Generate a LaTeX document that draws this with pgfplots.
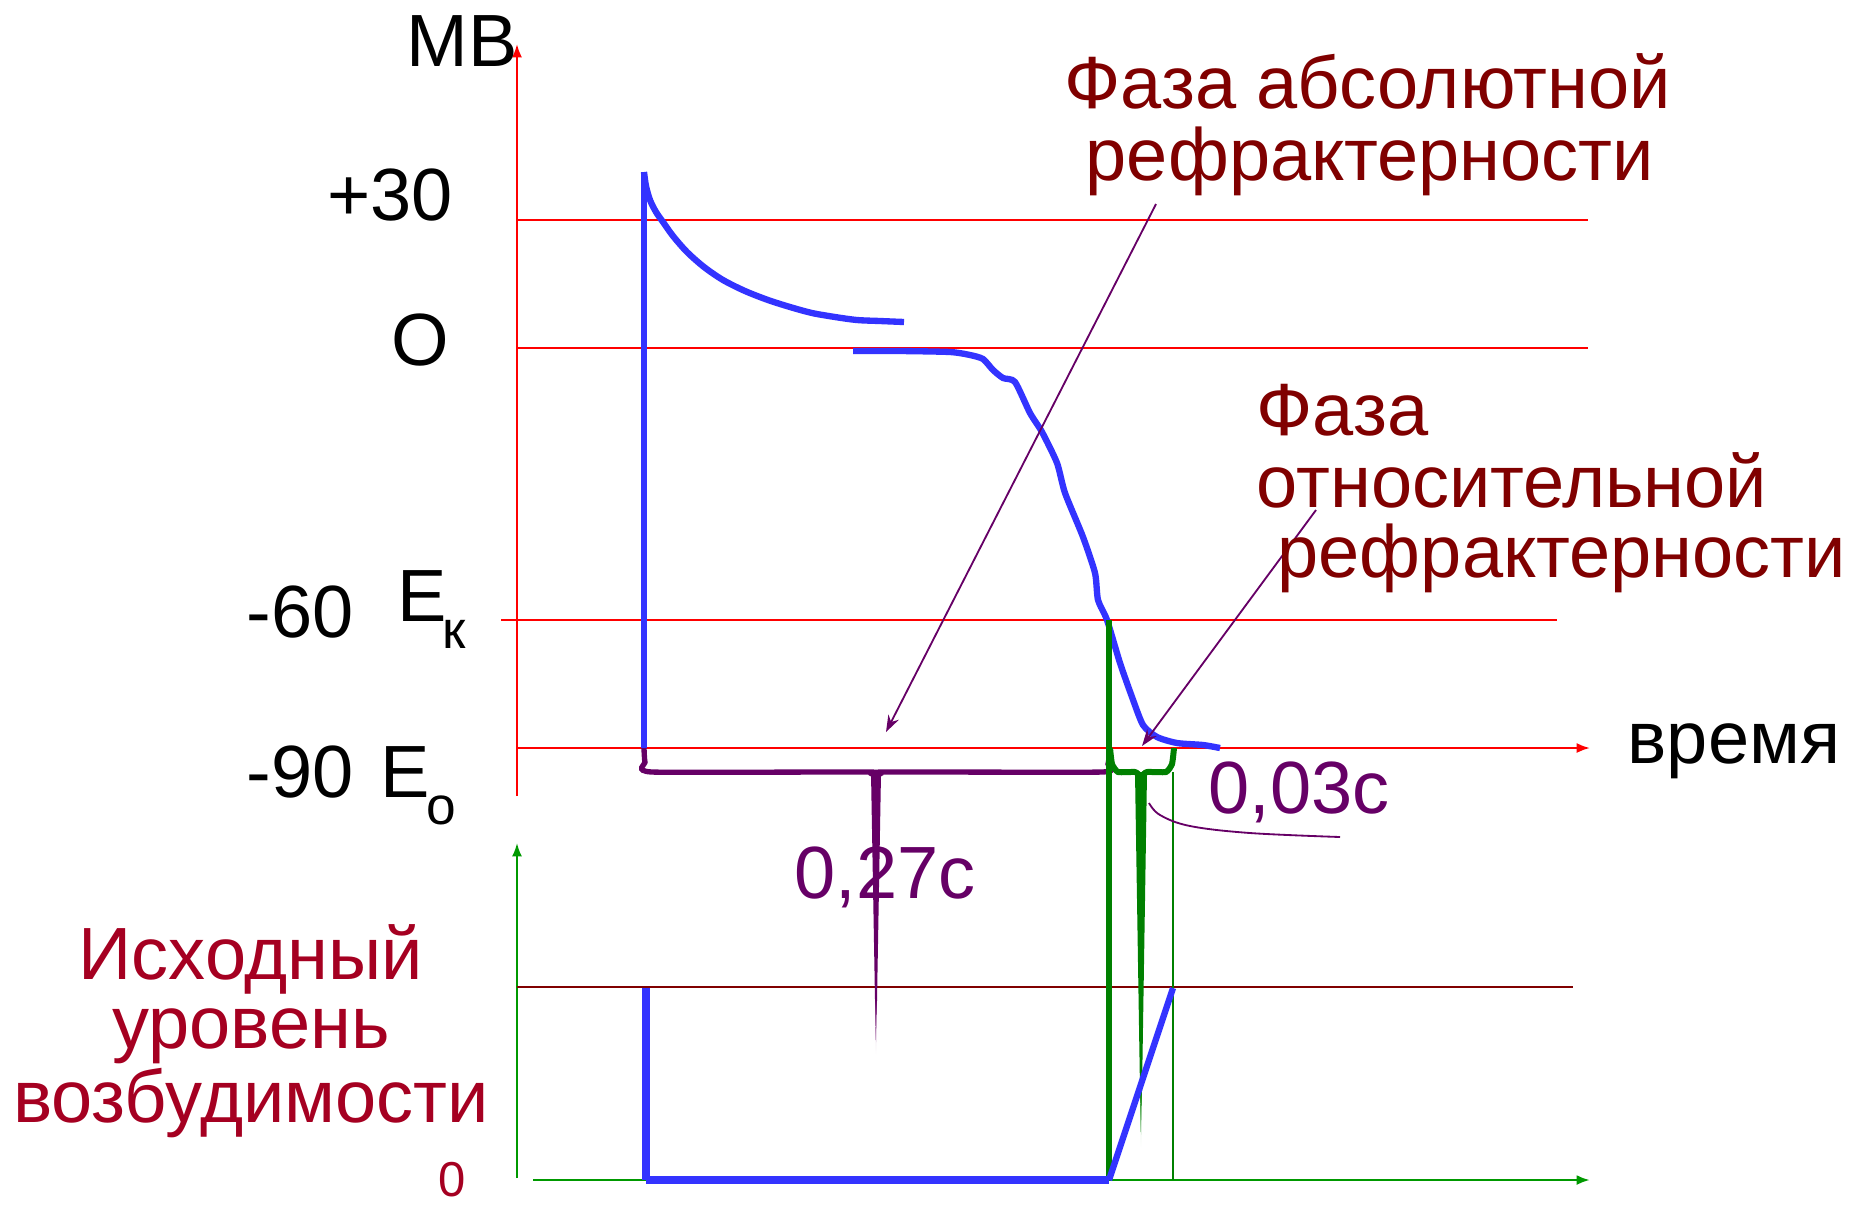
\documentclass[border=0pt]{standalone}
\usepackage{pgfplots}
\pgfplotsset{compat=1.18}
\usepackage{fontspec}
\setmainfont{Liberation Sans}
\usetikzlibrary{arrows.meta}
\definecolor{myblue}{HTML}{3333FF}
\definecolor{mygreen}{HTML}{008000}
\definecolor{axgreen}{HTML}{009900}
\definecolor{mypurple}{HTML}{660066}
\definecolor{darkred}{HTML}{800000}
\definecolor{crimson}{HTML}{A50021}
\newcommand\bigf{\fontsize{22.2pt}{22pt}\selectfont}
\newcommand\subf{\fontsize{16pt}{16pt}\selectfont}
\newcommand\smallf{\fontsize{14.7pt}{15pt}\selectfont}
\begin{document}
\begin{tikzpicture}
\useasboundingbox (0,0) rectangle (556.2pt,361.8pt);
\begin{axis}[at={(0,0)}, anchor=south west, scale only axis,
  width=556.2pt, height=361.8pt,
  xmin=0, xmax=1854, ymin=0, ymax=1206, y dir=reverse,
  axis lines=none, clip=false]
% red axes and levels
\addplot[red, line width=0.65pt, -{Latex[length=4pt,width=3pt]}] coordinates {(517,796) (517,44)};
\addplot[red, line width=0.65pt] coordinates {(517,220) (1588,220)};
\addplot[red, line width=0.65pt] coordinates {(517,348) (1588,348)};
\addplot[red, line width=0.65pt] coordinates {(501,620) (1557,620)};
\addplot[red, line width=0.65pt, -{Latex[length=4pt,width=3pt]}] coordinates {(517,748) (1590,748)};
% green axes
\addplot[axgreen, line width=0.6pt, -{Latex[length=4pt,width=3pt]}] coordinates {(517,1178) (517,843)};
\addplot[axgreen, line width=0.8pt, -{Latex[length=4pt,width=3pt]}] coordinates {(533,1180) (1590,1180)};
% dark red excitability level
\addplot[darkred, line width=0.75pt] coordinates {(517,987) (1573,987)};
% membrane potential
\addplot[myblue, line width=1.9pt] coordinates {(644,748) (644,172)};
\addplot[myblue, line width=1.9pt, smooth, tension=0.5] coordinates {
(644,172) (646,186) (650,200) (656,212) (663,222) (673,236) (687,252) (704,267)
(723,280) (745,291) (768,300) (790,307) (812,313) (835,317) (857,320) (880,321) (904,322)};
\addplot[myblue, line width=1.9pt, smooth, tension=0.4] coordinates {
(853,351) (900,351) (950,352) (970,355) (983,359) (993,370) (1003,378) (1015,382)
(1030,413) (1042,432) (1057,463) (1065,493) (1083,537) (1095,573) (1098,600)
(1107,620) (1120,663) (1132,697) (1143,725) (1157,737) (1177,743) (1203,745) (1220,748)};
% purple brace
\addplot[mypurple, line width=1.6pt, smooth, tension=0.3] coordinates {
(644,748) (645,762) (652,772) (870,772) (876,776) (882,772) (1102,772) (1108,764) (1110,750)};
\addplot[fill=mypurple, draw=none] coordinates {(871,773) (881,773) (877,1000) (875,1000)} -- cycle;
\addplot[top color=mypurple, bottom color=white, draw=none] coordinates {(875,1000) (877,1000) (876,1055)} -- cycle;
% green lines
\addplot[mygreen, line width=1.8pt] coordinates {(1109,620) (1109,1180)};
\addplot[mygreen, line width=0.6pt] coordinates {(1173,772) (1173,1180)};
\addplot[mygreen, line width=1.8pt, smooth, tension=0.3] coordinates {
(1110,748) (1112,764) (1118,772) (1135,772) (1141,776) (1147,772) (1166,772) (1172,764) (1174,748)};
\addplot[fill=mygreen, draw=none] coordinates {(1135,773) (1147,773) (1142,1090) (1140,1090)} -- cycle;
\addplot[top color=mygreen, bottom color=white, draw=none] coordinates {(1140,1090) (1142,1090) (1141,1148)} -- cycle;
% excitability (blue)
\addplot[myblue, line width=2.2pt] coordinates {(646,988) (646,1180)};
\addplot[myblue, line width=2.6pt] coordinates {(646,1180) (1109,1180)};
\addplot[myblue, line width=1.9pt] coordinates {(1109,1180) (1173,988)};
% purple arrows
\addplot[mypurple, line width=0.55pt, -{Stealth[length=5pt,width=3.5pt]}] coordinates {(1156,204) (886,732)};
\addplot[mypurple, line width=0.55pt, -{Stealth[length=5pt,width=3.5pt]}] coordinates {(1316,510) (1142,746)};
\addplot[mypurple, line width=0.55pt, smooth, tension=0.6] coordinates {(1149,803) (1160,815) (1190,826) (1250,833) (1340,837)};
% texts
\node[anchor=base, inner sep=0, font=\bigf] at (axis cs:462,66) {МВ};
\node[anchor=base, inner sep=0, font=\bigf] at (axis cs:390,220) {+30};
\node[anchor=base, inner sep=0, font=\bigf] at (axis cs:420,365) {O};
\node[anchor=base, inner sep=0, font=\bigf] at (axis cs:300,637) {-60};
\node[anchor=base west, inner sep=0, font=\bigf] at (axis cs:397,621) {E};
\node[anchor=base west, inner sep=0, font=\subf] at (axis cs:442,648) {к};
\node[anchor=base, inner sep=0, font=\bigf] at (axis cs:300,797) {-90};
\node[anchor=base west, inner sep=0, font=\bigf] at (axis cs:380,797) {E};
\node[anchor=base west, inner sep=0, font=\subf] at (axis cs:426,824) {о};
\node[anchor=base west, inner sep=0, font=\bigf] at (axis cs:1627,763) {время};
\node[anchor=base, inner sep=0, font=\bigf, text=darkred] at (axis cs:1368,108) {Фаза абсолютной};
\node[anchor=base, inner sep=0, font=\bigf, text=darkred] at (axis cs:1370,180) {рефрактерности};
\node[anchor=base west, inner sep=0, font=\bigf, text=darkred] at (axis cs:1256,435) {Фаза};
\node[anchor=base west, inner sep=0, font=\bigf, text=darkred] at (axis cs:1256,507) {относительной};
\node[anchor=base west, inner sep=0, font=\bigf, text=darkred] at (axis cs:1277,577) {рефрактерности};
\node[anchor=base west, inner sep=0, font=\bigf, text=mypurple] at (axis cs:794,898) {0,27с};
\node[anchor=base west, inner sep=0, font=\bigf, text=mypurple] at (axis cs:1208,813) {0,03с};
\node[anchor=base, inner sep=0, font=\bigf, text=crimson] at (axis cs:251,979) {Исходный};
\node[anchor=base, inner sep=0, font=\bigf, text=crimson] at (axis cs:251,1048) {уровень};
\node[anchor=base, inner sep=0, font=\bigf, text=crimson] at (axis cs:251,1122) {возбудимости};
\node[anchor=base, inner sep=0, font=\smallf, text=crimson] at (axis cs:452,1196) {0};
\end{axis}
\end{tikzpicture}
\end{document}
